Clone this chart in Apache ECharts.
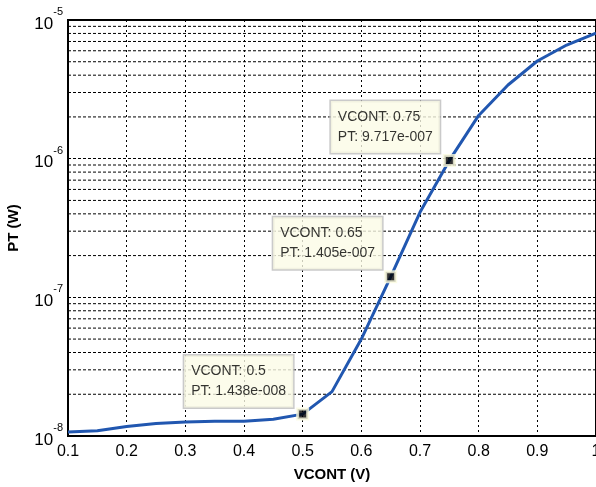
<!DOCTYPE html>
<html><head><meta charset="utf-8">
<script src="https://cdn.jsdelivr.net/npm/echarts@6/dist/echarts.min.js"></script>
<style>html,body{margin:0;padding:0;background:#fff}#c{width:596px;height:487px}</style>
</head><body><div id="c"></div>
<script>
const vcont = [0.1,0.15,0.2,0.25,0.3,0.35,0.4,0.45,0.5,0.55,0.6,0.65,0.7,0.75,0.8,0.85,0.9,0.95,1.0];
const pt = [1.07e-8,1.09e-8,1.17e-8,1.23e-8,1.26e-8,1.28e-8,1.28e-8,1.32e-8,1.438e-8,2.09e-8,5.0e-8,1.405e-7,4.1e-7,9.717e-7,2.05e-6,3.4e-6,5.06e-6,6.6e-6,8.05e-6];
const tipX = [0.5,0.65,0.75];
const tipY = [1.438e-8,1.405e-7,9.717e-7];
const tipText = ['VCONT: 0.5\nPT: 1.438e-008','VCONT: 0.65\nPT: 1.405e-007','VCONT: 0.75\nPT: 9.717e-007'];
const tipPos = [[-112,-26],[-111,-27],[-112,-27]];
const minorY = [];
[1e-8,1e-7,1e-6].forEach(d=>{for(let k=2;k<=9;k++) minorY.push(+(k*d).toPrecision(3));});
const xRange = [0.1,1.0];

const chart = echarts.init(document.getElementById('c'));
const FONT = 'Liberation Sans, Arial, sans-serif';
const gridSeries = minorY.map(v=>({type:'line',silent:true,symbol:'none',z:1,
  data:xRange.map(x=>[x,v]),lineStyle:{color:'#000',type:[3,2],width:1}}));
chart.setOption({
  animation:false,
  backgroundColor:'#fff',
  grid:{left:68,right:0,top:20,bottom:51,containLabel:false,outerBoundsMode:'none',show:true,borderColor:'#000',borderWidth:2,backgroundColor:'transparent'},
  xAxis:{type:'value',min:0.1,max:1,interval:0.1,
    name:'VCONT (V)',nameLocation:'middle',nameGap:31,
    nameTextStyle:{fontFamily:FONT,fontWeight:'bold',fontSize:15,color:'#000'},
    axisLine:{show:true,lineStyle:{color:'#000',width:2}},
    axisTick:{show:false},
    axisLabel:{fontFamily:FONT,fontSize:16,color:'#000',margin:8,hideOverlap:false,formatter:v=>String(+v.toFixed(1))},
    splitLine:{show:true,lineStyle:{color:'#000',type:[2,3],width:1}}},
  yAxis:{type:'log',logBase:10,min:1e-8,max:1e-5,
    name:'PT (W)',nameLocation:'middle',nameGap:47,nameRotate:90,
    nameTextStyle:{fontFamily:FONT,fontWeight:'bold',fontSize:15,color:'#000'},
    axisLine:{show:true,lineStyle:{color:'#000',width:2}},
    axisTick:{show:false},
    axisLabel:{margin:5,formatter:v=>'{b|10}{s|'+Math.round(Math.log10(v))+'}',
      rich:{b:{fontFamily:FONT,fontSize:17,color:'#000',padding:[8,0,0,0]},s:{fontFamily:FONT,fontSize:11,color:'#000',padding:[0,0,16,0]}}},
    splitLine:{show:true,lineStyle:{color:'#000',type:[3,2],width:1}}},
  series:gridSeries.concat([
    {type:'line',data:vcont.map((x,i)=>[x,pt[i]]),showSymbol:false,symbol:'none',
     lineStyle:{color:'#2157b0',width:3},z:3},
    {type:'scatter',z:5,symbol:'rect',symbolSize:10,
     itemStyle:{color:'#000',borderColor:'#fbfbe0',borderWidth:3},
     data:tipX.map((x,i)=>({value:[x,tipY[i]],label:{position:tipPos[i]}})),
     label:{show:true,align:'left',verticalAlign:'middle',
       formatter:p=>tipText[p.dataIndex],
       fontFamily:FONT,fontSize:14,color:'#000',lineHeight:20,
       backgroundColor:'#fbfbe6',borderColor:'#bdbdbd',borderWidth:1.5,
       padding:[6,7,6,7]}}
  ])
});
</script></body></html>
